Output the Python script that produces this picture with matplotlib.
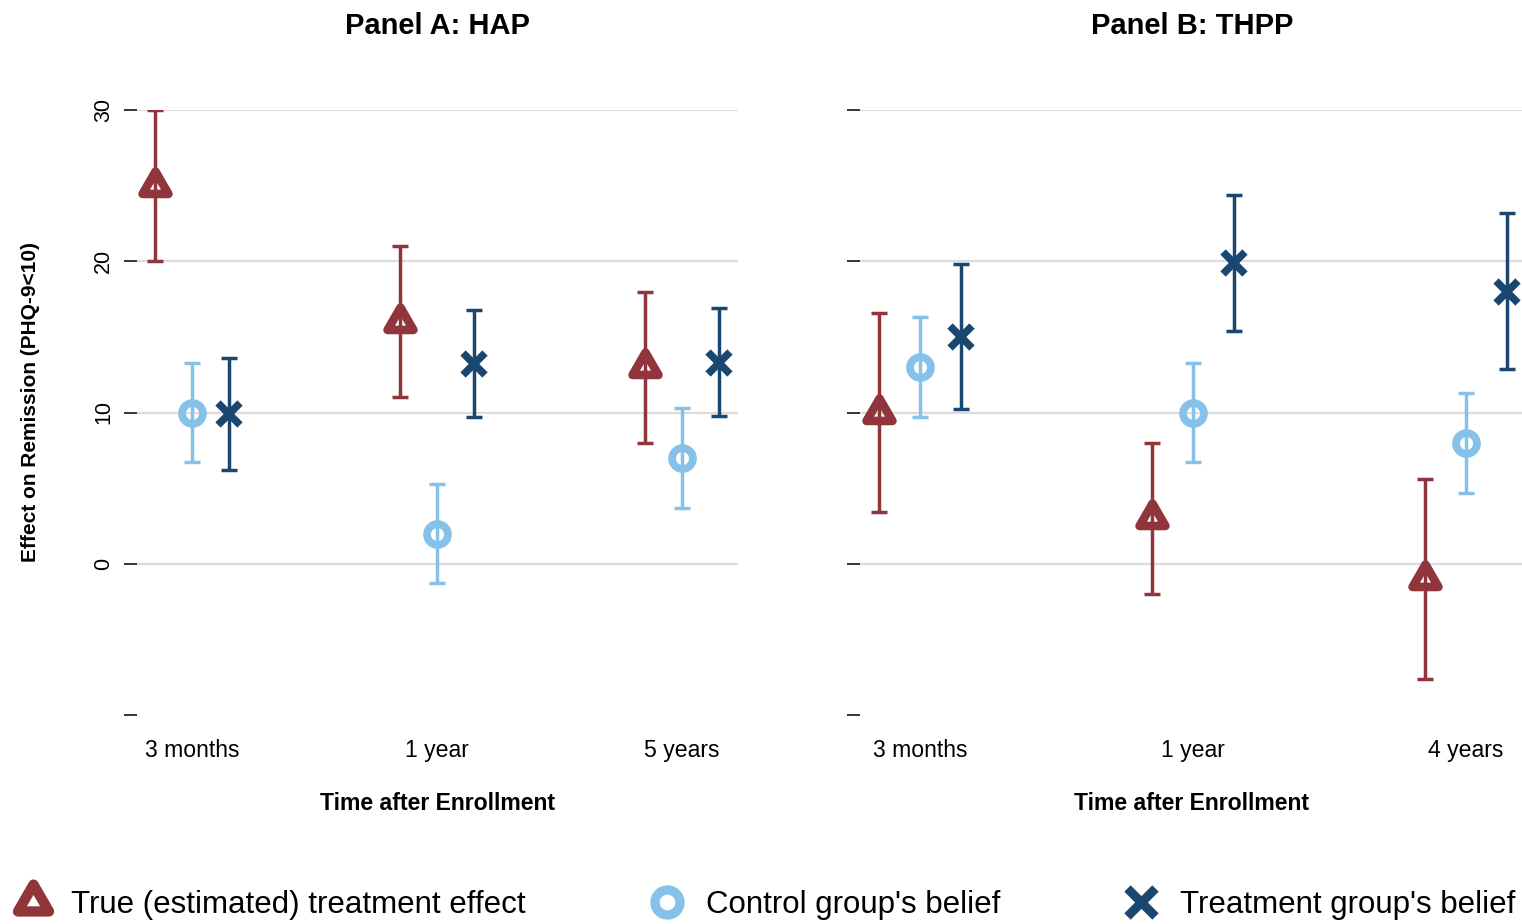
import matplotlib
matplotlib.use("Agg")
import matplotlib.pyplot as plt
import numpy as np
from matplotlib.path import Path
from matplotlib.markers import MarkerStyle
from matplotlib.lines import Line2D

plt.rcParams['font.family'] = ['Liberation Sans', 'DejaVu Sans']

# ---------------- data ----------------
panels = ["Panel A: HAP", "Panel B: THPP"]
cats_A = ["3 months", "1 year", "5 years"]
cats_B = ["3 months", "1 year", "4 years"]
series_names = ["True (estimated) treatment effect", "Control group's belief", "Treatment group's belief"]

# Panel A
true_A = [25.0, 16.0, 13.0]
true_A_lo = [20.0, 11.0, 8.0]
true_A_hi = [30.0, 21.0, 18.0]
ctrl_A = [10.0, 2.0, 7.0]
ctrl_A_lo = [6.7, -1.3, 3.7]
ctrl_A_hi = [13.3, 5.3, 10.3]
treat_A = [9.9, 13.2, 13.3]
treat_A_lo = [6.2, 9.7, 9.8]
treat_A_hi = [13.6, 16.8, 16.9]

# Panel B
true_B = [10.0, 3.0, -1.0]
true_B_lo = [3.4, -2.0, -7.6]
true_B_hi = [16.6, 8.0, 5.6]
ctrl_B = [13.0, 10.0, 8.0]
ctrl_B_lo = [9.7, 6.7, 4.7]
ctrl_B_hi = [16.3, 13.3, 11.3]
treat_B = [15.0, 19.9, 18.0]
treat_B_lo = [10.2, 15.4, 12.9]
treat_B_hi = [19.8, 24.4, 23.2]

yticks = [-10, 0, 10, 20, 30]
ytick_labels = ["", "0", "10", "20", "30"]

# ---------------- style ----------------
RED = "#90353B"
LBLUE = "#85C1E9"
NAVY = "#1A476F"
colors = [RED, LBLUE, NAVY]

tri_path = Path([(0, 0.5774), (-0.5, -0.2887), (0.5, -0.2887), (0, 0.5774)],
                [Path.MOVETO, Path.LINETO, Path.LINETO, Path.CLOSEPOLY])
tri_marker = MarkerStyle(tri_path, joinstyle='miter')

W, H = 1522, 924
fig = plt.figure(figsize=(W / 100, H / 100), dpi=100)

def px_axes(left, right, top, bottom):
    return fig.add_axes([left / W, 1 - bottom / H, (right - left) / W, (bottom - top) / H])

axA = px_axes(137, 738, 110, 715)
axB = px_axes(860, 1524, 110, 715)

offset = 0.15

def marker_kw(i, scale=1.0):
    if i == 0:
        return dict(marker=tri_marker, markersize=21.5 * scale, markeredgewidth=6.2 * scale,
                    markerfacecolor='none', markeredgecolor=RED)
    if i == 1:
        return dict(marker='o', markersize=15.0 * scale, markeredgewidth=5.6 * scale,
                    markerfacecolor='none', markeredgecolor=LBLUE)
    return dict(marker='x', markersize=16.5 * scale, markeredgewidth=5.4 * scale,
                markeredgecolor=NAVY)

def draw(ax, cats, data, xlim):
    x = np.arange(len(cats))
    for i, (v, lo, hi) in enumerate(data):
        v = np.asarray(v); lo = np.asarray(lo); hi = np.asarray(hi)
        xs = x + (i - 1) * offset
        ax.errorbar(xs, v, yerr=[v - lo, hi - v], fmt='none', ecolor=colors[i],
                    elinewidth=2.5, capsize=6.0, capthick=2.5, zorder=3)
        ax.plot(xs, v, linestyle='none', zorder=4, **marker_kw(i))
    ax.set_xlim(*xlim)
    ax.set_ylim(-10, 30)
    ax.set_xticks(x)
    ax.set_xticklabels(cats, fontsize=16.6)
    ax.tick_params(axis='x', length=0, pad=17)
    ax.set_yticks(yticks)
    ax.tick_params(axis='y', length=9.5, width=1.1, pad=7, labelsize=15.5)
    for s in ax.spines.values():
        s.set_visible(False)
    ax.grid(axis='y', color='#DCDCDC', linewidth=1.6, zorder=0)
    ax.set_axisbelow(True)
    gl = ax.yaxis.get_gridlines()
    gl[0].set_visible(False)
    ax.set_xlabel("Time after Enrollment", fontsize=16.6, fontweight='bold', labelpad=22)

draw(axA, cats_A, [(true_A, true_A_lo, true_A_hi), (ctrl_A, ctrl_A_lo, ctrl_A_hi),
                   (treat_A, treat_A_lo, treat_A_hi)], (-0.224, 2.229))
draw(axB, cats_B, [(true_B, true_B_lo, true_B_hi), (ctrl_B, ctrl_B_lo, ctrl_B_hi),
                   (treat_B, treat_B_lo, treat_B_hi)], (-0.22, 2.214))

axA.set_yticklabels(ytick_labels, rotation=90, va='center')
axB.set_yticklabels([""] * len(yticks))

axA.set_title(panels[0], fontsize=21, fontweight='bold', pad=55)
axB.set_title(panels[1], fontsize=21, fontweight='bold', pad=55)

fig.text(31 / W, 1 - 402 / H, "Effect on Remission (PHQ-9<10)", rotation=90,
         ha='center', va='center', fontsize=15, fontweight='bold')

handles = [Line2D([], [], linestyle='none', **marker_kw(i, 1.2)) for i in range(3)]
fig.legend(handles, series_names, loc='center', ncol=3, mode='expand',
           bbox_to_anchor=(12 / W, 1 - 905 / H, (1515 - 12) / W, 0),
           frameon=False, fontsize=22.5, handlelength=1.35, handletextpad=0.55,
           borderpad=0, borderaxespad=0)

fig.savefig("out.png", dpi=100)
